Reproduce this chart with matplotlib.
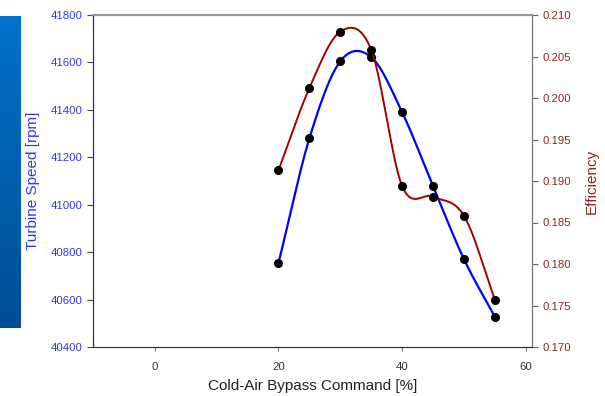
import numpy as np
import matplotlib
matplotlib.use("Agg")
import matplotlib.pyplot as plt

plt.rcParams["font.family"] = ["Liberation Sans", "DejaVu Sans"]

# data
bypass_cmd = [20, 25, 30, 35, 40, 45, 50, 55]
turbine_speed = [40754, 41280, 41605, 41622, 41390, 41078, 40770, 40527]
efficiency = [0.1913, 0.2012, 0.2080, 0.2058, 0.1894, 0.1881, 0.1858, 0.1757]

BLUE = "#0000FF"
RED = "#A00000"
BLUE_TXT = "#3535F5"
RED_TXT = "#8B2525"


def smooth(x, y, n=40):
    # Excel-style smoothed line: Catmull-Rom through the points
    x = np.asarray(x, float)
    y = np.asarray(y, float)
    px = np.concatenate([[2 * x[0] - x[1]], x, [2 * x[-1] - x[-2]]])
    py = np.concatenate([[2 * y[0] - y[1]], y, [2 * y[-1] - y[-2]]])
    t = np.linspace(0, 1, n)[:, None]
    xs, ys = [], []
    for i in range(1, len(px) - 2):
        for p, out in ((px, xs), (py, ys)):
            p0, p1, p2, p3 = p[i - 1], p[i], p[i + 1], p[i + 2]
            seg = 0.5 * ((2 * p1) + (-p0 + p2) * t
                         + (2 * p0 - 5 * p1 + 4 * p2 - p3) * t ** 2
                         + (-p0 + 3 * p1 - 3 * p2 + p3) * t ** 3)
            out.append(seg.ravel())
    return np.concatenate(xs), np.concatenate(ys)


fig = plt.figure(figsize=(6.05, 3.96), dpi=100)

# decorative gradient bar on the left edge
bar = fig.add_axes([0, 1 - 328 / 396, 21 / 605, (328 - 16) / 396])
grad = np.linspace(0, 1, 256)[:, None]
cmap = matplotlib.colors.LinearSegmentedColormap.from_list(
    "bar", ["#0072CA", "#004E94"])
bar.imshow(grad, aspect="auto", cmap=cmap)
bar.set_axis_off()

ax = fig.add_axes([93 / 605, 1 - 347 / 396, (532 - 93) / 605, (347 - 15) / 396])
ax2 = ax.twinx()

sx, sy = smooth(bypass_cmd, turbine_speed)
ax.plot(sx, sy, color=BLUE, lw=1.6, zorder=2)
ax.plot(bypass_cmd, turbine_speed, "o", color="black", ms=5.5, zorder=3)

ex, ey = smooth(bypass_cmd, efficiency)
ax2.plot(ex, ey, color=RED, lw=1.4, zorder=2)
ax2.plot(bypass_cmd, efficiency, "o", color="black", ms=5.5, zorder=3)

ax.set_xlim(-10, 61)
ax.set_ylim(40400, 41800)
ax2.set_ylim(0.170, 0.210)
ax.set_xticks([0, 20, 40, 60])
ax.set_yticks(np.arange(40400, 41801, 200))
ax2.set_yticks(np.arange(0.170, 0.2101, 0.005))
ax2.set_yticklabels([f"{v:.3f}" for v in np.arange(0.170, 0.2101, 0.005)])

ax.tick_params(axis="y", colors="#444444", labelcolor=BLUE_TXT, labelsize=8.2,
               length=4, width=0.8)
ax.tick_params(axis="x", colors="#777777", labelcolor="#333333", labelsize=8.2,
               length=3, width=0.8, pad=8)
ax2.tick_params(axis="y", colors="#666666", labelcolor=RED_TXT, labelsize=8.2,
                length=4, width=0.8)

ax.set_xlabel("Cold-Air Bypass Command [%]", fontsize=11, color="#222222",
              labelpad=5)
ax.set_ylabel("Turbine Speed [rpm]", fontsize=11, color=BLUE_TXT, labelpad=8)
ax2.set_ylabel("Efficiency", fontsize=11, color=RED_TXT, labelpad=10)

for a in (ax, ax2):
    a.spines["left"].set_color("#333333")
    a.spines["bottom"].set_color("#333333")
    a.spines["right"].set_color("#777777")
    a.spines["top"].set_color("#999999")
    a.spines["top"].set_linewidth(1.5)

fig.savefig("out.png", dpi=100)
